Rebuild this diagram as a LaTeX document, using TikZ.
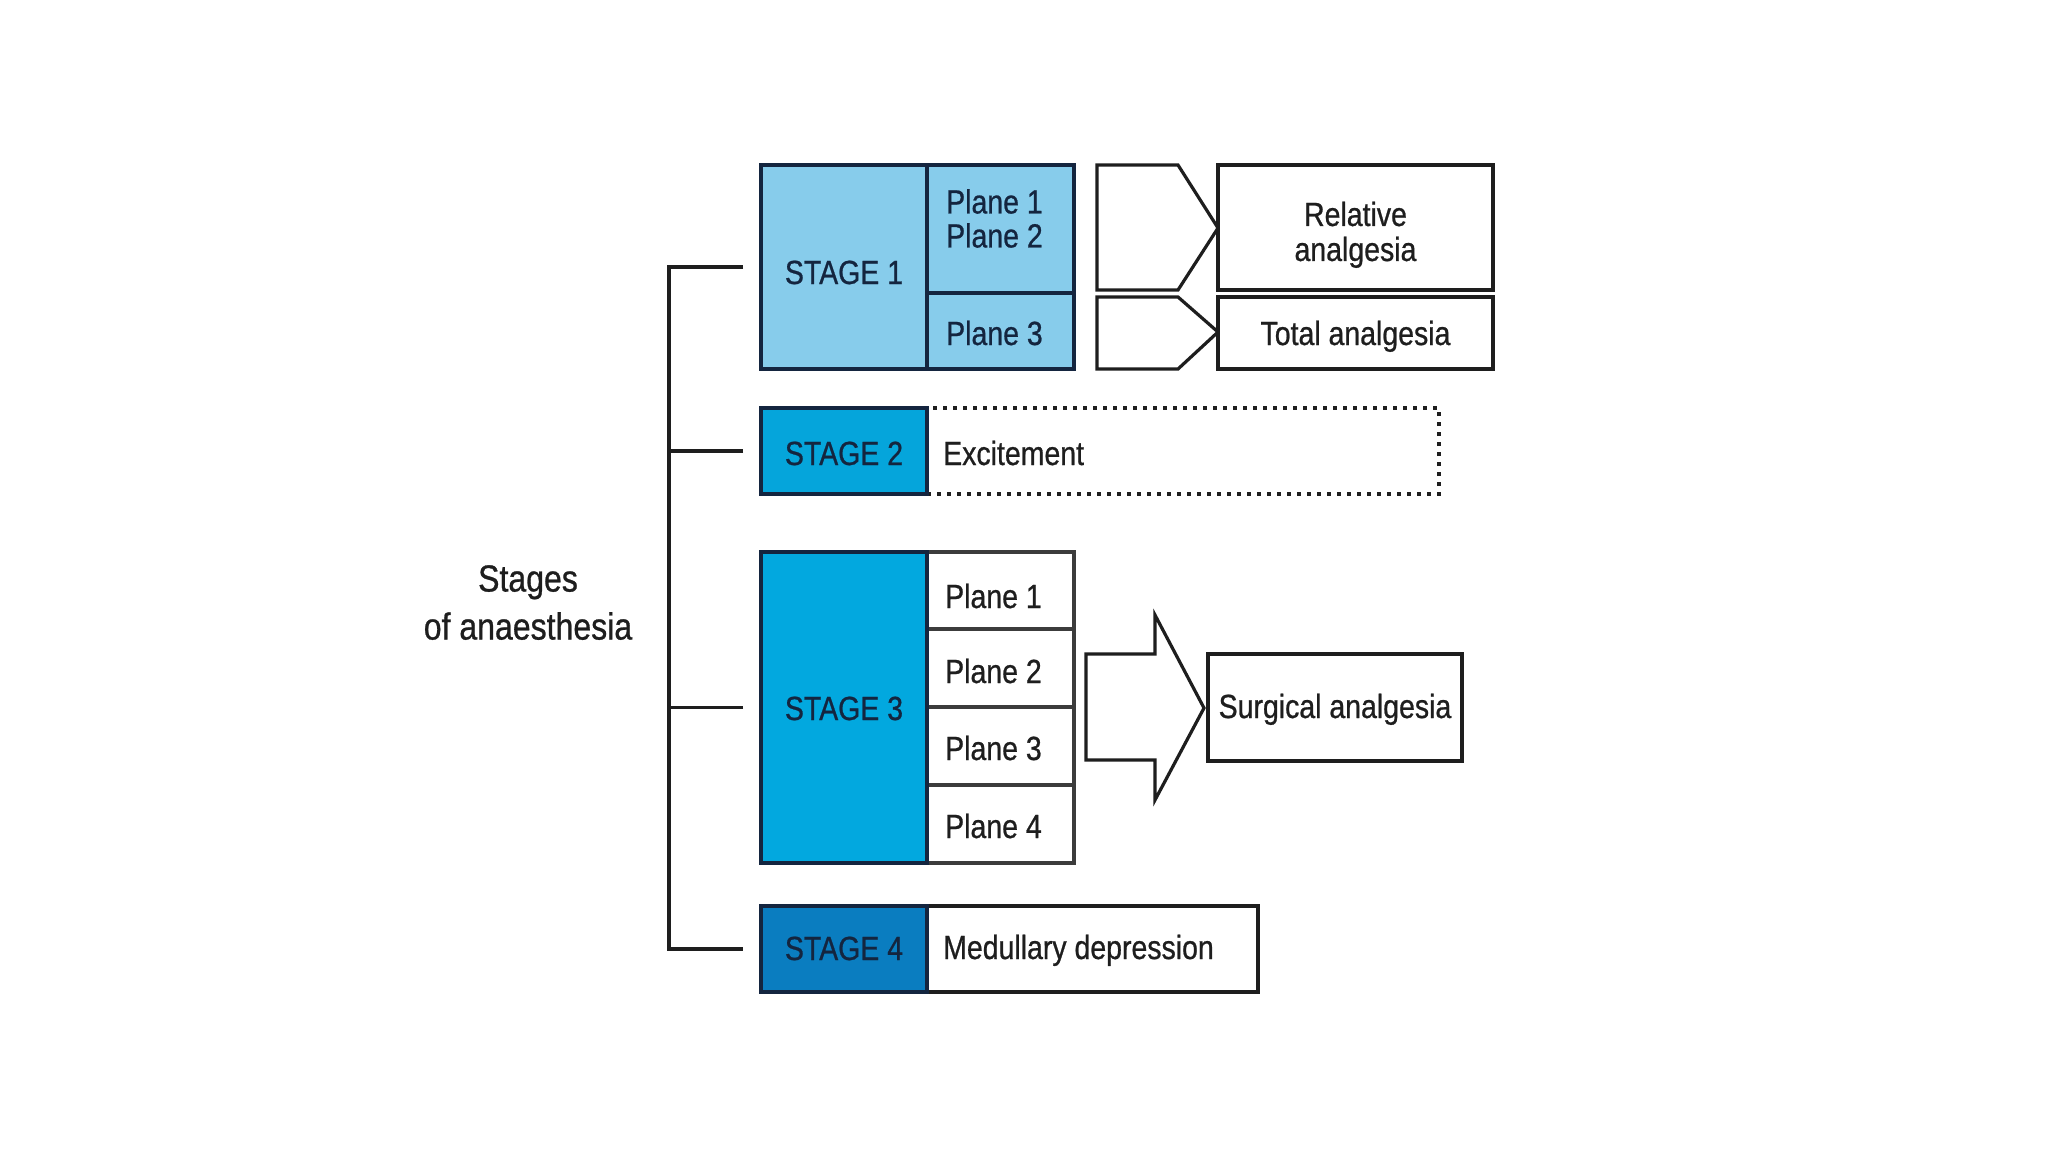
\documentclass[tikz,border=0pt]{standalone}
\usepackage{fontspec}
\setmainfont{Liberation Sans}[FakeStretch=0.85,FakeBold=0.7]
\definecolor{sone}{HTML}{87CCEB}
\definecolor{stwo}{HTML}{05A5DB}
\definecolor{sthree}{HTML}{02A8DF}
\definecolor{sfour}{HTML}{0A7DC0}
\definecolor{navy}{HTML}{14253F}
\definecolor{ink}{HTML}{1E1E1E}
\definecolor{pgrey}{HTML}{3C3C3C}
\newcommand\bxf{\fontsize{33.5}{34}\selectfont}
\newcommand\lblf{\fontsize{37.7}{48}\selectfont}
\begin{document}
\begin{tikzpicture}[x=1pt,y=-1pt,
  cell/.style={draw=navy, line width=3.5pt, inner sep=0pt, outer sep=0pt, anchor=north west},
  wbox/.style={draw=ink, line width=3.6pt, fill=white, inner sep=0pt, outer sep=0pt, anchor=north west},
  pbox/.style={draw=pgrey, line width=3.2pt, fill=white, inner sep=0pt, outer sep=0pt, anchor=north west},
  dotbox/.style={draw=ink, line width=3.8pt, dash pattern=on 3.8pt off 6.2pt, inner sep=0pt, outer sep=0pt, anchor=north west},
  blockarrow/.style={draw=ink, line width=3.2pt, fill=white, line join=miter},
  bracket/.style={draw=ink, line width=3.6pt},
  stxt/.style={inner sep=0pt, anchor=base, text=navy, font=\bxf},
  ltxt/.style={inner sep=0pt, anchor=base west, text=ink, font=\bxf},
  ctxt/.style={inner sep=0pt, anchor=base, text=ink, font=\bxf}
]
\useasboundingbox[fill=white] (0,0) rectangle (2048,1152);

% ---------- STAGE 1 ----------
\node[cell, fill=sone, minimum width=166, minimum height=204] (s1) at (761,165) {};
\node[cell, fill=sone, minimum width=147, minimum height=128] (s1p12) at (927,165) {};
\node[cell, fill=sone, minimum width=147, minimum height=76] (s1p3) at (927,293) {};
\node[stxt] (t1) at (844,284) {STAGE 1};
\node[inner sep=0pt, anchor=north west, align=left, text=navy, font=\bxf] (t1p12) at (946,189) {Plane 1\\Plane 2};
\node[inner sep=0pt, anchor=base west, text=navy, font=\bxf] (t1p3) at (946,345) {Plane 3};

\draw[blockarrow] (1097,165) -- (1178,165) -- (1218,228) -- (1178,290) -- (1097,290) -- cycle;
\draw[blockarrow] (1097,297) -- (1178,297) -- (1218,332) -- (1178,369) -- (1097,369) -- cycle;

\node[wbox, line width=4pt, minimum width=275, minimum height=125] (rel) at (1218,165) {};
\node[wbox, line width=4pt, minimum width=275, minimum height=72] (tot) at (1218,297) {};
\node[inner sep=0pt, anchor=north, align=center, text=ink, font=\fontsize{33.5}{35}\selectfont] (trel) at (1355.5,201.5) {Relative\\analgesia};
\node[ctxt] (ttot) at (1355.5,345) {Total analgesia};

% ---------- STAGE 2 ----------
\node[dotbox, minimum width=512, minimum height=86] (ex) at (927,408) {};
\node[cell, fill=stwo, line width=4pt, minimum width=166, minimum height=86] (s2) at (761,408) {};
\node[stxt] (t2) at (844,465) {STAGE 2};
\node[ltxt] (tex) at (943,465) {Excitement};

% ---------- STAGE 3 ----------
\node[pbox, minimum width=147, minimum height=77] (p1) at (927,552) {};
\node[pbox, minimum width=147, minimum height=78] (p2) at (927,629) {};
\node[pbox, minimum width=147, minimum height=78] (p3) at (927,707) {};
\node[pbox, minimum width=147, minimum height=78] (p4) at (927,785) {};
\node[cell, fill=sthree, minimum width=166, minimum height=311] (s3) at (761,552) {};
\node[stxt] (t3) at (844,720) {STAGE 3};
\node[ltxt] (tp1) at (945,608) {Plane 1};
\node[ltxt] (tp2) at (945,683) {Plane 2};
\node[ltxt] (tp3) at (945,760) {Plane 3};
\node[ltxt] (tp4) at (945,838) {Plane 4};

\draw[blockarrow] (1086,654) -- (1155,654) -- (1155,615) -- (1204,708) -- (1155,800) -- (1155,760) -- (1086,760) -- cycle;
\node[wbox, minimum width=254, minimum height=107] (surg) at (1208,654) {};
\node[ctxt] (tsurg) at (1335,718) {Surgical analgesia};

% ---------- STAGE 4 ----------
\node[wbox, minimum width=331, minimum height=86] (med) at (927,906) {};
\node[cell, fill=sfour, minimum width=166, minimum height=86] (s4) at (761,906) {};
\node[stxt] (t4) at (844,960) {STAGE 4};
\node[ltxt] (tmed) at (943,959) {Medullary depression};

% ---------- label and bracket ----------
\node[inner sep=0pt, anchor=north, align=center, text=ink, font=\lblf] (lbl) at (528,565) {Stages\\of anaesthesia};
\coordinate (spine) at (669,0);
\draw[bracket] ([xshift=-18pt]s1.west) -- (s1.west -| spine) -- (s4.west -| spine) -- ([xshift=-18pt]s4.west);
\draw[bracket] ([xshift=-18pt]s2.west) -- (s2.west -| spine);
\draw[bracket] ([xshift=-18pt]s3.west) -- (s3.west -| spine);
\end{tikzpicture}
\end{document}
